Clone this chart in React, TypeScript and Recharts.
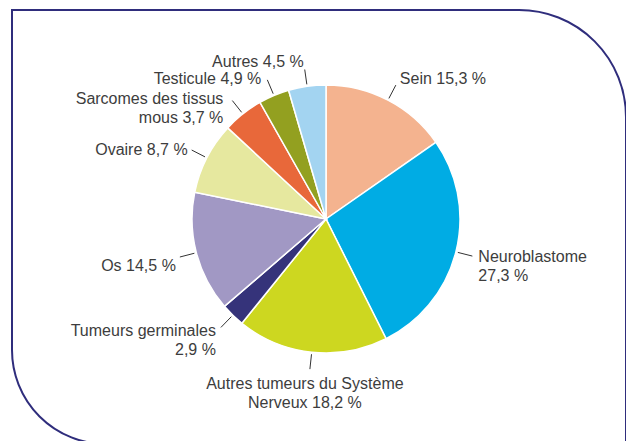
import React from "react";
import { PieChart, Pie, Cell } from "recharts";

// Slice values as drawn (clockwise from 12 o'clock)
const values = [15.3, 27.3, 18.2, 2.9, 14.5, 8.7, 4.9, 3.7, 4.5];
const names = [
  "Sein",
  "Neuroblastome",
  "Autres tumeurs du Système Nerveux",
  "Tumeurs germinales",
  "Os",
  "Ovaire",
  "Sarcomes des tissus mous",
  "Testicule",
  "Autres",
];
const labelLines = [
  ["Sein 15,3 %"],
  ["Neuroblastome", "27,3 %"],
  ["Autres tumeurs du Système", "Nerveux 18,2 %"],
  ["Tumeurs germinales", "2,9 %"],
  ["Os 14,5 %"],
  ["Ovaire 8,7 %"],
  ["Sarcomes des tissus", "mous 3,7 %"],
  ["Testicule 4,9 %"],
  ["Autres 4,5 %"],
];
const colors = [
  "#f4b38f",
  "#00ace4",
  "#cdd720",
  "#35337a",
  "#a198c4",
  "#e6e89f",
  "#e8683a",
  "#93a020",
  "#a3d4f1",
];

// label layout: [anchor, dx, dy] relative to leader end
const labelLayout: [string, number, number][] = [
  ["start", 4, -7],
  ["start", 6, 0],
  ["middle", -5, 14],
  ["end", -5, 3],
  ["end", -4, 8],
  ["end", -4, -1],
  ["end", -9, -2.5],
  ["end", -6, -1],
  ["end", -1, -8.5],
];

const data = values.map((v, i) => ({ name: names[i], value: v }));

const RAD = Math.PI / 180;

const renderLabel = (props: any) => {
  const { cx, cy, midAngle, outerRadius, index } = props;
  const cos = Math.cos(-midAngle * RAD);
  const sin = Math.sin(-midAngle * RAD);
  const x1 = cx + (outerRadius + 2) * cos;
  const y1 = cy + (outerRadius + 2) * sin;
  const x2 = cx + (outerRadius + 17) * cos;
  const y2 = cy + (outerRadius + 17) * sin;
  const [anchor, dx, dy] = labelLayout[index];
  const lines = labelLines[index];
  return (
    <g key={`lbl-${index}`}>
      <line x1={x1} y1={y1} x2={x2} y2={y2} stroke="#333" strokeWidth={1} />
      {lines.map((t, j) => (
        <text
          key={j}
          x={x2 + dx}
          y={y2 + dy + 5.5 + j * 19}
          textAnchor={anchor as any}
          fill="#3d3d3d"
          fontSize={16}
          fontFamily="'Liberation Sans', Arial, sans-serif"
        >
          {t}
        </text>
      ))}
    </g>
  );
};

export default function App() {
  return (
    <div
      style={{
        position: "fixed",
        left: 0,
        top: 0,
        width: 626,
        height: 441,
        overflow: "hidden",
        background: "#fff",
      }}
    >
      <div
        style={{
          position: "absolute",
          left: 11,
          top: 9,
          width: 616,
          height: 436,
          boxSizing: "border-box",
          border: "2px solid #2f2d7c",
          borderTopRightRadius: 108,
          borderBottomLeftRadius: 95,
        }}
      />
      <div style={{ position: "absolute", left: 0, top: 0 }}>
        <PieChart width={626} height={441} margin={{ top: 0, right: 0, bottom: 0, left: 0 }}>
          <Pie
            data={data}
            dataKey="value"
            nameKey="name"
            cx={326}
            cy={219}
            outerRadius={134}
            startAngle={90}
            endAngle={-270}
            stroke="#ffffff"
            strokeWidth={1.5}
            labelLine={false}
            label={renderLabel}
            isAnimationActive={false}
          >
            {data.map((d, i) => (
              <Cell key={d.name} fill={colors[i]} />
            ))}
          </Pie>
        </PieChart>
      </div>
    </div>
  );
}
